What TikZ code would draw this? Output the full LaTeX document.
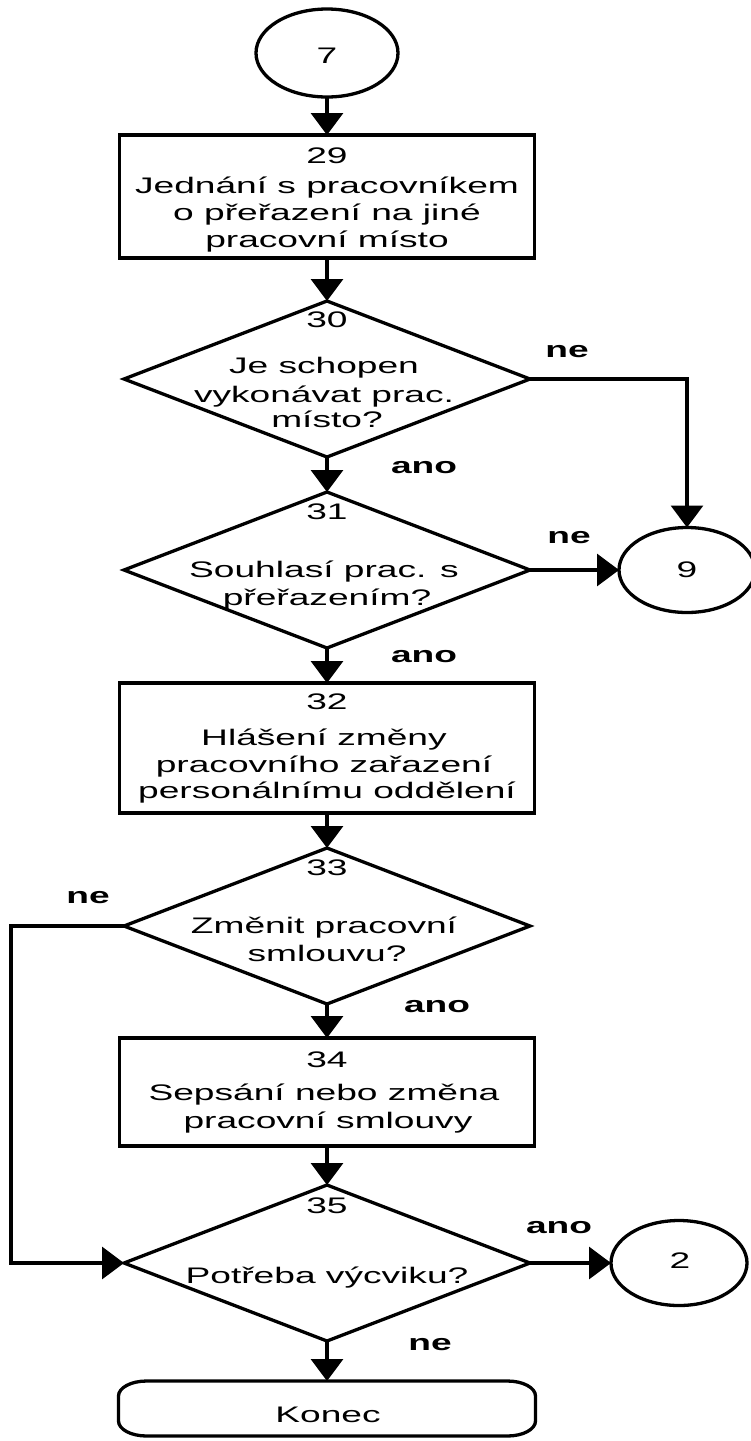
\documentclass[tikz,border=0pt]{standalone}
\usepackage{fontspec}
\setmainfont{Liberation Sans}[FakeStretch=1.65]
\usetikzlibrary{shapes.geometric,arrows.meta}

\begin{document}
\begin{tikzpicture}[x=1pt,y=1pt,
  every node/.style={font=\fontsize{22.5}{27}\selectfont, inner sep=0pt, outer sep=0pt},
  line/.style={line width=3.3pt},
  flow/.style={line width=3.3pt, -{Triangle[length=22pt,width=32pt]}},
  proc/.style={draw, rectangle, line width=3.3pt, minimum width=415pt, minimum height=#1},
  dec/.style={draw, diamond, line width=3.3pt, minimum width=406pt, minimum height=156pt},
  conn/.style={draw, ellipse, line width=3.3pt},
  txt/.style={anchor=base},
  lbl/.style={anchor=base, font=\fontsize{22.5}{27}\selectfont\bfseries}]
\useasboundingbox (0,0) rectangle (750,-1441);

% shapes
\node[conn, minimum width=142pt, minimum height=88pt] (c7) at (327,-53) {};
\node[proc=123pt] (b29) at (327,-196.5) {};
\node[dec] (d30) at (327,-379) {};
\node[dec] (d31) at (327,-570) {};
\node[conn, minimum width=136pt, minimum height=85pt] (c9) at (687,-570) {};
\node[proc=130pt] (b32) at (327,-748) {};
\node[dec] (d33) at (327,-926) {};
\node[proc=108pt] (b34) at (327,-1092) {};
\node[dec] (d35) at (327,-1263) {};
\node[conn, minimum width=136pt, minimum height=85pt] (c2) at (679,-1263) {};
\node[minimum width=417pt, minimum height=55pt] (end) at (327,-1408.5) {};
\draw[line] ([xshift=28pt]end.north west) -- ([xshift=-28pt]end.north east)
  arc[start angle=90,end angle=0,x radius=28,y radius=15]
  -- ([yshift=15pt]end.south east)
  arc[start angle=0,end angle=-90,x radius=28,y radius=15]
  -- ([xshift=28pt]end.south west)
  arc[start angle=270,end angle=180,x radius=28,y radius=15]
  -- ([yshift=-15pt]end.north west)
  arc[start angle=180,end angle=90,x radius=28,y radius=15] -- cycle;

% texts
\node[txt] (t7) at (327,-63) {7};
\node[txt] (n29) at (327,-163) {29};
\node[txt] (t29a) at (327,-193) {Jednání s pracovníkem};
\node[txt] (t29b) at (327,-220) {o přeřazení na jiné};
\node[txt] (t29c) at (327,-247) {pracovní místo};

\node[txt] (n30) at (327,-327) {30};
\node[txt] (t30a) at (324,-373) {Je schopen};
\node[txt] (t30b) at (324,-402) {vykonávat prac.};
\node[txt] (t30c) at (327,-427) {místo?};

\node[txt] (n31) at (327,-519) {31};
\node[txt] (t31a) at (324,-577) {Souhlasí prac. s};
\node[txt] (t31b) at (327,-605) {přeřazením?};
\node[txt] (t9) at (687,-577) {9};

\node[txt] (n32) at (327,-709) {32};
\node[txt] (t32a) at (324,-745) {Hlášení změny};
\node[txt] (t32b) at (324,-772) {pracovního zařazení};
\node[txt] (t32c) at (327,-798) {personálnímu oddělení};

\node[txt] (n33) at (327,-875) {33};
\node[txt] (t33a) at (324,-933) {Změnit pracovní};
\node[txt] (t33b) at (327,-961) {smlouvu?};

\node[txt] (n34) at (327,-1067) {34};
\node[txt] (t34a) at (324,-1100) {Sepsání nebo změna};
\node[txt] (t34b) at (328,-1128) {pracovní smlouvy};

\node[txt] (n35) at (327,-1213) {35};
\node[txt] (t35) at (327,-1283) {Potřeba výcviku?};
\node[txt] (t2) at (680,-1268) {2};
\node[txt] (tend) at (328,-1422) {Konec};

% branch labels
\node[lbl] (l30n) at (567,-357) {ne};
\node[lbl] (l30a) at (424,-473) {ano};
\node[lbl] (l31n) at (569,-543) {ne};
\node[lbl] (l31a) at (424,-662) {ano};
\node[lbl] (l33n) at (88,-903) {ne};
\node[lbl] (l33a) at (437,-1012) {ano};
\node[lbl] (l35a) at (559,-1233) {ano};
\node[lbl] (l35n) at (430,-1350) {ne};

% connectors
\coordinate (rail) at (11,-926);
\draw[flow] (c7.south) -- (b29.north);
\draw[flow] (b29.south) -- (d30.north);
\draw[flow] (d30.south) -- (d31.north);
\draw[flow] (d30.east) -| (c9.north);
\draw[flow] (d31.east) -- (c9.west);
\draw[flow] (d31.south) -- (b32.north);
\draw[flow] (b32.south) -- (d33.north);
\draw[flow] (d33.south) -- (b34.north);
\draw[flow] (b34.south) -- (d35.north);
\draw[flow] (d33.west) -- (rail) |- (d35.west);
\draw[flow] (d35.east) -- (c2.west);
\draw[flow] (d35.south) -- (end.north);
\end{tikzpicture}
\end{document}
